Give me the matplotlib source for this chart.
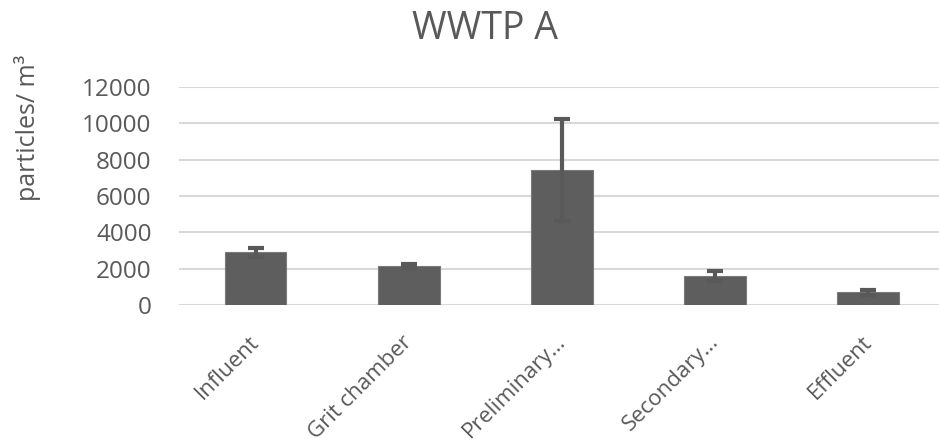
import matplotlib.pyplot as plt
import matplotlib.transforms as mtransforms
import numpy as np

# data
categories = ["Influent", "Grit chamber", "Preliminary\u2026", "Secondary\u2026", "Effluent"]
means = [2900, 2160, 7430, 1600, 700]
errors = [250, 100, 2820, 260, 120]
yticks = [0, 2000, 4000, 6000, 8000, 10000, 12000]

grey = "#595959"
plt.rcParams['font.family'] = ['Open Sans', 'DejaVu Sans']

fig = plt.figure(figsize=(9.39, 4.46), dpi=100)
ax = fig.add_axes([0.191, 0.316, 0.815, 0.489])

x = np.arange(len(categories))
ax.bar(x, means, width=0.4, color="#5e5e5e", edgecolor="#7a7a7a", linewidth=0.8, zorder=2)
ax.errorbar(x, means, yerr=errors, fmt='none', ecolor=grey, elinewidth=3,
            capsize=6, capthick=3, zorder=3)

ax.set_xlim(-0.5, len(categories) - 0.5)
ax.set_ylim(0, 12000)
ax.set_yticks(yticks)
ax.set_yticklabels([str(v) for v in yticks], fontsize=17.5, color=grey)
ax.yaxis.grid(True, color="#d9d9d9", linewidth=1.5, zorder=0)
ax.set_axisbelow(True)
for s in ax.spines.values():
    s.set_visible(False)
ax.tick_params(axis='both', length=0)
ax.tick_params(axis='y', pad=20)

ax.set_xticks(x)
ax.set_xticklabels(categories, rotation=45, ha='right', rotation_mode='anchor',
                   fontsize=16, color=grey)
ax.tick_params(axis='x', pad=14)
shift = mtransforms.ScaledTranslation(-0.07, -0.07, fig.dpi_scale_trans)
for lab in ax.get_xticklabels():
    lab.set_transform(lab.get_transform() + shift)

fig.text(28 / 939, 1 - 128 / 446, "particles/ m\u00b3", rotation=90, ha='center',
         va='center', fontsize=18, color=grey)
fig.text(485 / 939, 1 - 39 / 446, "WWTP A", ha='center', va='baseline',
         fontsize=27, color=grey)

fig.savefig("out.png", dpi=100)
